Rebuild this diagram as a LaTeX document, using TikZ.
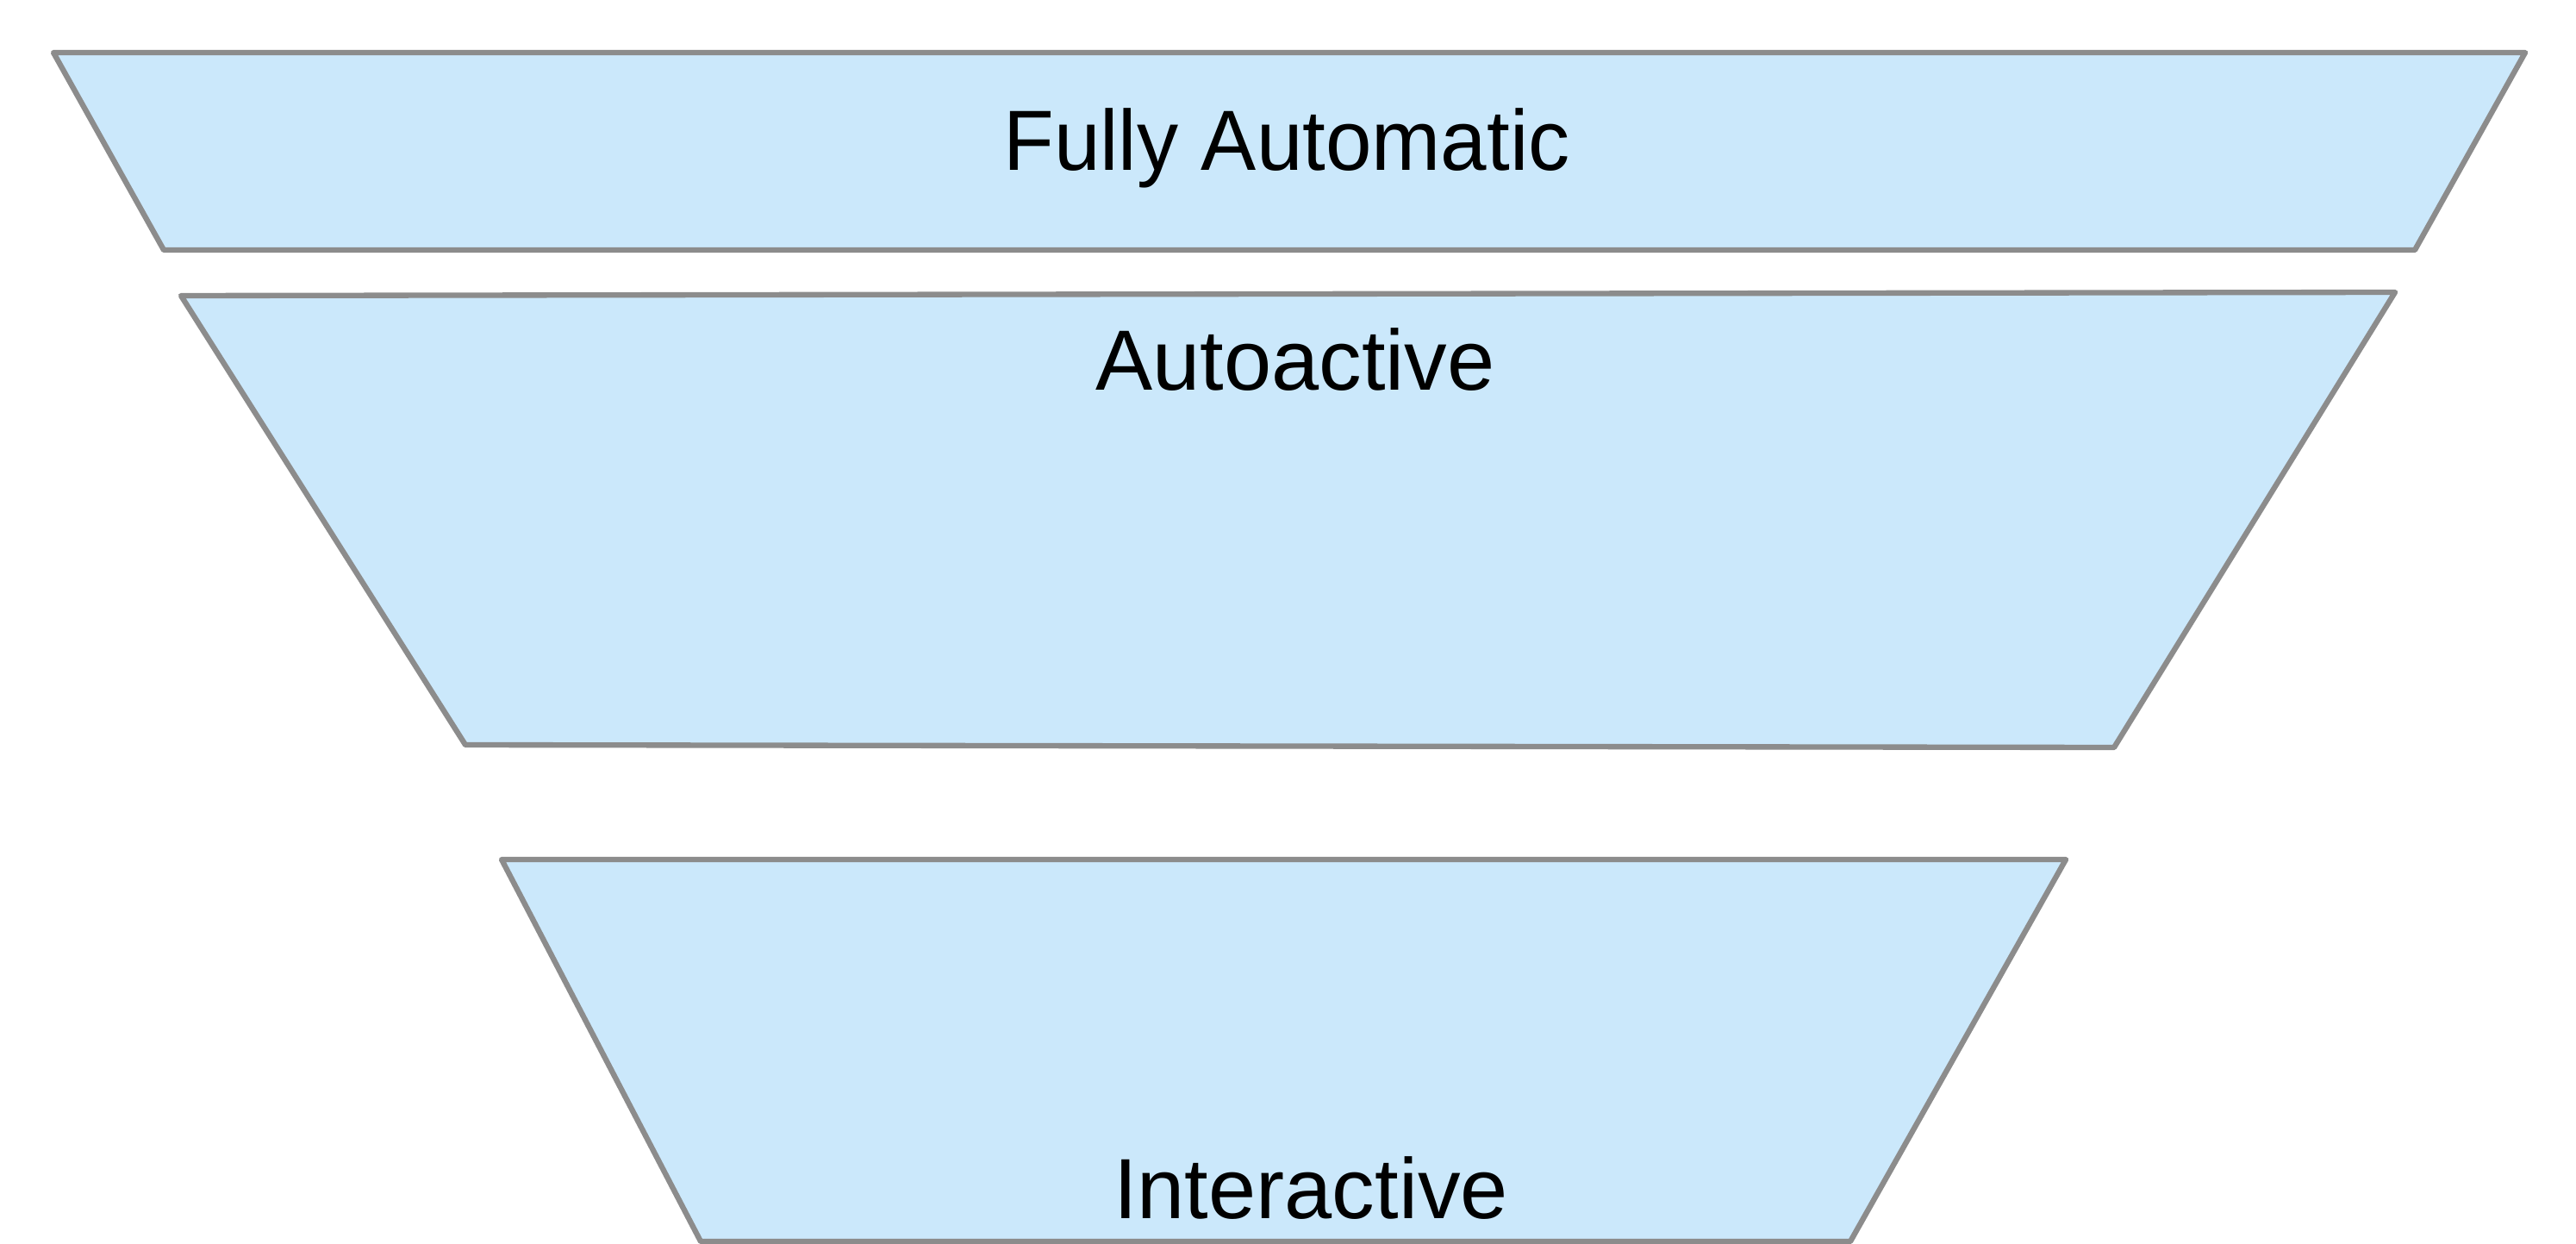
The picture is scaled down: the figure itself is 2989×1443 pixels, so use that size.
\documentclass[tikz,border=0pt]{standalone}
\usepackage{fontspec}
\setmainfont{Liberation Sans}
\definecolor{tfill}{HTML}{CBE8FB}
\definecolor{tline}{HTML}{8C8C8C}
\begin{document}
\begin{tikzpicture}[x=0.01cm,y=-0.01cm,
  tier/.style={fill=tfill,draw=tline,line width=1.8pt,line join=round},
  lbl/.style={anchor=base,inner sep=0pt,font=\fontsize{28.2}{34}\selectfont}]
\useasboundingbox (0,0) rectangle (2989,1443);
\filldraw[tier] (62,61) -- (2930,61) -- (2802,290) -- (190,290) -- cycle;
\filldraw[tier] (210,343) -- (2779,339) -- (2453,867) -- (540,864) -- cycle;
\filldraw[tier] (582,997) -- (2397,997) -- (2147,1440) -- (813,1440) -- cycle;
\node[lbl,xscale=0.97,transform shape] (fa) at (1493,198) {Fully Automatic};
\node[lbl] (aa) at (1503,453) {Autoactive};
\node[lbl] (ia) at (1521,1413) {Interactive};
\end{tikzpicture}
\end{document}
